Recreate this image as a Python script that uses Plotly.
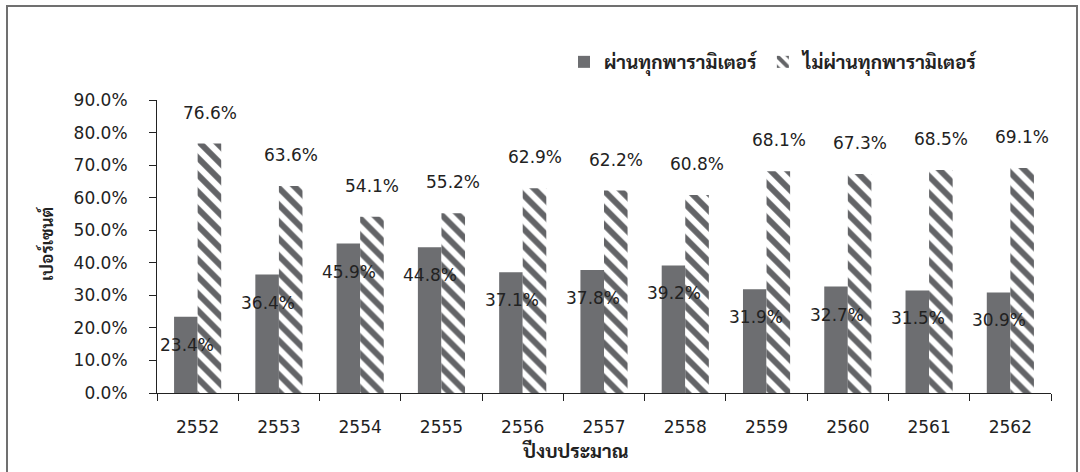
import plotly.graph_objects as go

years = ["2552", "2553", "2554", "2555", "2556", "2557", "2558", "2559", "2560", "2561", "2562"]
passed = [23.4, 36.4, 45.9, 44.8, 37.1, 37.8, 39.2, 31.9, 32.7, 31.5, 30.9]
failed = [76.6, 63.6, 54.1, 55.2, 62.9, 62.2, 60.8, 68.1, 67.3, 68.5, 69.1]
name_pass = "ผ่านทุกพารามิเตอร์"
name_fail = "ไม่ผ่านทุกพารามิเตอร์"
ytitle = "เปอร์เซนต์"
xtitle = "ปีงบประมาณ"

GRAY = "#6d6e71"
HATCH = "#636467"
TXT = "#222222"
NUM_FONT = "DejaVu Sans, Verdana, sans-serif"
THAI_FONT = ("Sarabun, TH Sarabun New, Kinnari, Norasi, Laksaman, Garuda, Loma, "
             "Noto Sans Thai Looped, Noto Sans Thai, Tahoma, DejaVu Sans, sans-serif")

fig = go.Figure()
fig.add_bar(x=years, y=[v / 100 for v in passed], name=f"<b>{name_pass}</b>",
            marker=dict(color=GRAY, line=dict(width=0)))
fig.add_bar(x=years, y=[v / 100 for v in failed], name=f"<b>{name_fail}</b>",
            marker=dict(color="white", line=dict(width=0),
                        pattern=dict(shape="\\", fgcolor=HATCH, bgcolor="white",
                                     fgopacity=1, size=12, solidity=0.5)))

ann = []
for i, (p, f) in enumerate(zip(passed, failed)):
    ann.append(dict(x=i, y=p / 100, text=f"{p:.1f}%", showarrow=False,
                    xshift=-11, yshift=-28, font=dict(family=NUM_FONT, size=17, color=TXT)))
    ann.append(dict(x=i, y=f / 100, text=f"{f:.1f}%", showarrow=False,
                    xshift=12, yshift=31, font=dict(family=NUM_FONT, size=17, color=TXT)))

# axis titles
ann.append(dict(xref="paper", yref="paper", x=(46 - 157) / 894, y=(393 - 244) / 293,
                xanchor="center", yanchor="middle",
                text=f"<b>{ytitle}</b>", textangle=-90, showarrow=False,
                font=dict(family=THAI_FONT, size=17, color=TXT)))
ann.append(dict(xref="paper", yref="paper", x=(575 - 157) / 894, y=(393 - 450) / 293,
                xanchor="center", yanchor="middle",
                text=f"<b>{xtitle}</b>", showarrow=False,
                font=dict(family=THAI_FONT, size=19, color=TXT)))

fig.update_layout(
    width=1080, height=472,
    margin=dict(l=157, r=29, t=100, b=79),
    paper_bgcolor="white", plot_bgcolor="white",
    barmode="group", bargap=0.42, bargroupgap=0,
    showlegend=True,
    legend=dict(orientation="h", x=(985 - 157) / 894, xanchor="right",
                y=(393 - 62) / 293, yanchor="middle",
                font=dict(family=THAI_FONT, size=19, color=TXT),
                itemwidth=30, tracegroupgap=0,
                bgcolor="rgba(0,0,0,0)"),
    annotations=ann,
    shapes=[dict(type="rect", xref="paper", yref="paper",
                 x0=(7 - 157) / 894, x1=(1077 - 157) / 894,
                 y0=(393 - 480) / 293, y1=(393 - 6) / 293,
                 line=dict(color="#707070", width=2), layer="below")],
)
fig.update_yaxes(range=[0, 0.9], dtick=0.1, tickformat=".1%", showgrid=False,
                 showline=True, linecolor=TXT, linewidth=1,
                 ticks="outside", ticklen=7, tickcolor=TXT,
                 ticklabelstandoff=18,
                 tickfont=dict(family=NUM_FONT, size=17, color=TXT), zeroline=False)
fig.update_xaxes(type="category", range=[-0.5, len(years) - 0.5], showgrid=False,
                 showline=True, linecolor=TXT, linewidth=1,
                 ticks="outside", ticklen=7, tickcolor=TXT, tickson="boundaries",
                 ticklabelstandoff=19, tickangle=0,
                 tickfont=dict(family=NUM_FONT, size=17, color=TXT))

fig.write_html("out.html")
